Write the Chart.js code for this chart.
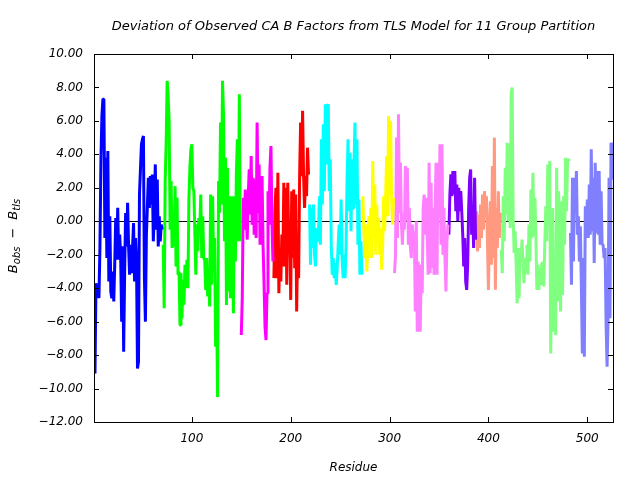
<!DOCTYPE html>
<html>
<head>
<meta charset="utf-8">
<script src="https://cdn.jsdelivr.net/npm/chart.js@4/dist/chart.umd.min.js"></script>
<style>
  html, body { margin: 0; background: #fff; }
</style>
</head>
<body>
<canvas id="chart" width="640" height="480"></canvas>
<script>
// first residue of each TLS group
const groupStart = [1, 71, 150, 183, 219, 273, 305, 360, 388, 413, 483];
const groupColor = ["#0000ff", "#00ff00", "#ff00ff", "#ff0000", "#00ffff", "#ffff00",
                    "#ff80ff", "#8000ff", "#ff9980", "#80ff80", "#8080ff"];

// B_obs - B_tls per residue, one array per group
const group1 = [-8.8,-9.1,-3.7,-4.5,-3.8,-4.6,-1.6,3.6,6.3,7.3,
  7.3,-1.0,3.8,-2.2,4.2,-3.6,0.3,-4.2,-4.6,-3.0,
  -4.8,-2.5,0.2,-2.3,0.8,-2.3,-0.8,-2.2,-6.0,-1.5,
  -7.8,-3.0,0.5,-1.5,1.1,-1.5,-3.2,-1.4,-3.1,-1.6,
  -0.1,-3.6,-1.0,-2.4,-8.8,-8.4,1.6,3.1,4.6,4.9,
  5.1,-3.4,-6.0,-0.8,0.9,2.6,0.8,2.7,1.0,2.8,
  -1.2,0.5,3.4,-0.5,2.5,-1.5,0.3,-1.2,-0.2,-0.5];
const group2 = [-1.4,-5.2,2.4,4.7,8.4,7.5,6.0,-0.5,2.4,-1.6,
  0.0,-1.5,2.1,-2.7,1.4,-3.2,-3.0,-6.2,-3.1,-5.8,
  -3.5,-5.0,-2.6,-4.0,-2.3,-4.0,1.3,3.2,4.3,4.6,
  2.0,1.8,-0.6,-3.2,-0.2,-1.8,0.2,-0.6,1.6,-2.2,
  0.3,-2.2,-2.3,-4.1,-2.2,-4.5,-3.0,-5.1,1.6,-3.8,
  1.5,-3.0,-1.0,-7.5,-4.5,-10.5,2.4,0.5,5.9,1.0,
  8.4,6.4,-1.2,3.8,-5.0,3.2,-4.2,1.5,-4.6,-2.0,
  1.5,-5.5,1.5,-2.4,2.8,4.9,-1.2,7.6,-1.2];
const group3 = [-6.8,-4.5,1.4,-0.5,1.9,0.2,-1.1,1.5,3.1,0.4,
  3.9,-0.2,2.6,-0.8,2.5,-1.0,5.9,0.5,3.4,-1.4,
  1.2,2.7,-1.4,-3.7,-6.3,-7.1,-4.3,1.8,-0.2,3.2,
  4.5,0.0,-2.4];
const group4 = [-3.4,0.6,2.0,-3.4,2.9,-4.3,-1.8,-3.6,-0.8,-2.7,
  2.3,-2.7,2.0,-3.8,2.3,-1.2,-0.3,-4.7,1.8,-2.2,
  1.9,-2.8,1.6,-5.4,-1.4,-3.4,2.7,5.9,2.7,6.6,
  2.7,0.8,2.7,1.5,4.4,2.8];
const group5 = [1.0,-2.6,0.8,-1.6,1.0,-1.9,-2.7,-0.4,-1.2,-0.9,
  1.5,-1.4,4.9,1.0,5.8,1.8,7.0,3.4,6.9,7.0,
  1.8,3.7,-1.4,-3.2,-2.2,-3.4,-2.5,-3.8,-2.8,-1.4,
  -0.2,-2.0,1.3,-2.2,-3.4,-2.0,-3.4,-1.4,2.5,4.9,
  0.6,4.1,-0.6,3.7,0.8,3.4,5.9,1.0,4.9,-1.4,
  1.3,-3.2,-1.2,-3.2];
const group6 = [1.5,-0.6,-2.2,-0.2,-3.0,-1.4,0.3,-2.2,0.8,-2.2,
  3.6,-1.0,2.2,-2.0,1.0,-1.4,0.2,-2.0,-0.4,-2.9,
  -1.5,1.5,-0.6,1.5,3.9,0.3,6.3,1.5,6.0,1.5,
  -0.2,1.4];
const group7 = [-3.1,-2.0,5.0,-1.0,6.4,0.5,3.5,-0.2,-1.4,0.5,
  -0.5,3.3,0.0,3.2,-1.4,0.8,-1.5,-2.2,-0.2,-1.2,
  -0.6,-5.4,0.0,-6.6,-2.4,-5.4,-6.6,-2.6,-4.3,0.8,
  1.6,-0.8,1.4,-0.8,-3.2,3.5,-3.1,2.3,-2.8,0.8,
  -3.2,0.6,3.5,-3.2,3.5,0.2,4.6,-1.4,4.6,-2.0,
  0.8,-2.1,-4.2,-1.2,-0.2];
const group8 = [-0.8,1.6,2.8,1.5,3.0,1.6,3.0,0.6,2.2,0.0,
  2.0,0.6,1.8,0.6,-0.8,-2.7,-1.0,-3.6,-4.1,-2.6,
  0.8,2.6,3.1,-0.8,0.8,-1.6,2.6,-1.1];
const group9 = [0.6,-1.8,0.4,-1.6,1.0,-1.0,1.6,-0.5,1.8,0.6,
  1.5,-1.2,-4.1,-0.6,1.2,-2.6,3.3,-2.2,5.0,-4.1,
  0.8,-1.6,1.8,-1.0,0.5];
const group10 = [-1.7,-3.1,1.5,-1.2,3.2,0.4,4.7,0.0,4.6,-0.4,
  7.7,8.0,0.2,-1.9,-0.6,-2.6,-4.9,-1.6,-4.6,-1.6,
  -2.2,-1.1,-2.7,-3.7,-2.2,-3.0,-1.4,-3.2,-0.2,-2.4,
  1.9,-1.0,2.9,-0.9,1.4,-0.9,-4.1,-2.6,-4.1,-2.8,
  -3.8,-2.5,-2.5,-3.9,-1.4,0.9,-1.2,3.4,0.6,3.6,
  -7.9,-2.2,0.8,-6.6,-4.8,-6.8,3.2,-4.8,1.8,-1.4,
  -5.4,1.2,-4.4,1.5,-1.4,3.8,0.6,3.6,3.7,3.6];
const group11 = [-0.7,-3.8,2.6,-2.4,2.6,1.0,3.0,-0.8,0.3,-2.4,
  -0.3,-3.9,-7.9,-2.2,-8.1,0.9,-1.0,1.3,-1.0,2.2,
  -0.8,4.3,-0.6,2.6,-2.5,3.5,-0.7,3.0,-0.8,3.0,
  -1.4,1.8,-1.4,-1.4,-2.2,-1.6,-6.1,-8.7,-6.0,2.6,
  -5.8,4.7,2.5,4.7];

const groups = [group1, group2, group3, group4, group5, group6,
                group7, group8, group9, group10, group11];
const xTicks = [100, 200, 300, 400, 500];
const residueMin = 1;
const residueMax = 526;

const titleText = "Deviation of Observed CA B Factors from TLS Model for 11 Group Partition";
const font = "'DejaVu Sans', sans-serif";

const datasets = groups.map((vals, g) => ({
    label: "Group " + (g + 1),
    data: vals.map((v, i) => ({ x: groupStart[g] + i, y: v })),
    borderColor: groupColor[g],
    backgroundColor: groupColor[g],
    borderWidth: 3,
    borderJoinStyle: "bevel",
    pointRadius: 0,
    tension: 0,
    fill: false
}));

// gnuplot-like frame: inward ticks on all sides, zero line, titles
const framePlugin = {
    id: "frame",
    beforeDatasetsDraw(chart) {
        const { ctx, chartArea: a, scales } = chart;
        const y0 = Math.round(scales.y.getPixelForValue(0)) + 0.5;
        ctx.save();
        ctx.strokeStyle = "#000";
        ctx.lineWidth = 1;
        ctx.beginPath();
        ctx.moveTo(a.left, y0);
        ctx.lineTo(a.right, y0);
        ctx.stroke();
        ctx.restore();
    },
    afterDraw(chart) {
        const { ctx, chartArea: a, scales } = chart;
        const tick = 5;
        ctx.save();
        ctx.strokeStyle = "#000";
        ctx.lineWidth = 1;
        ctx.beginPath();
        scales.y.ticks.forEach(t => {
            const py = Math.round(scales.y.getPixelForValue(t.value)) + 0.5;
            ctx.moveTo(a.left, py); ctx.lineTo(a.left + tick, py);
            ctx.moveTo(a.right, py); ctx.lineTo(a.right - tick, py);
        });
        scales.x.ticks.forEach(t => {
            const px = Math.round(scales.x.getPixelForValue(t.value)) + 0.5;
            ctx.moveTo(px, a.bottom); ctx.lineTo(px, a.bottom - tick);
            ctx.moveTo(px, a.top); ctx.lineTo(px, a.top + tick);
        });
        ctx.stroke();
        ctx.strokeRect(Math.round(a.left) + 0.5, Math.round(a.top) + 0.5,
                       Math.round(a.right - a.left), Math.round(a.bottom - a.top));

        const cx = (a.left + a.right) / 2;
        ctx.fillStyle = "#000";
        ctx.textAlign = "center";
        ctx.textBaseline = "middle";
        ctx.font = "italic 13px " + font;
        ctx.fillText(titleText, cx, 27);
        ctx.font = "italic 12px " + font;
        ctx.fillText("Residue", cx, 468);

        // y axis label with subscripts: [text, size, baseline shift, gap after]
        const parts = [["B", 13, 0, 0], ["obs", 10, 3, 8], ["\u2212", 13, 0, 8],
                       ["B", 13, 0, 0], ["tls", 10, 3, 0]];
        let total = 0;
        parts.forEach(p => {
            ctx.font = "italic " + p[1] + "px " + font;
            total += ctx.measureText(p[0]).width + p[3];
        });
        ctx.translate(17, 236);
        ctx.rotate(-Math.PI / 2);
        ctx.textAlign = "left";
        ctx.textBaseline = "alphabetic";
        let x = -total / 2;
        parts.forEach(p => {
            ctx.font = "italic " + p[1] + "px " + font;
            ctx.fillText(p[0], x, p[2]);
            x += ctx.measureText(p[0]).width + p[3];
        });
        ctx.restore();
    }
};

new Chart(document.getElementById("chart").getContext("2d"), {
    type: "line",
    data: { datasets },
    plugins: [framePlugin],
    options: {
        responsive: false,
        animation: false,
        devicePixelRatio: 1,
        layout: { padding: { left: 0, top: 54, right: 27, bottom: 0 } },
        plugins: { legend: { display: false }, tooltip: { enabled: false } },
        scales: {
            x: {
                type: "linear",
                min: residueMin,
                max: residueMax,
                afterBuildTicks: s => { s.ticks = xTicks.map(v => ({ value: v })); },
                afterFit: s => { s.height = 58; },
                grid: { display: false, drawTicks: false },
                border: { display: false },
                ticks: {
                    padding: 10,
                    color: "#000",
                    maxRotation: 0,
                    font: { family: font, size: 12, style: "italic" },
                    callback: v => String(v)
                }
            },
            y: {
                min: -12,
                max: 10,
                afterFit: s => { s.width = 94; },
                grid: { display: false, drawTicks: false },
                border: { display: false },
                ticks: {
                    stepSize: 2,
                    padding: 11,
                    color: "#000",
                    font: { family: font, size: 12, style: "italic" },
                    callback: v => (v < 0 ? "\u2212" : "") + Math.abs(v).toFixed(2)
                }
            }
        }
    }
});
</script>
</body>
</html>
